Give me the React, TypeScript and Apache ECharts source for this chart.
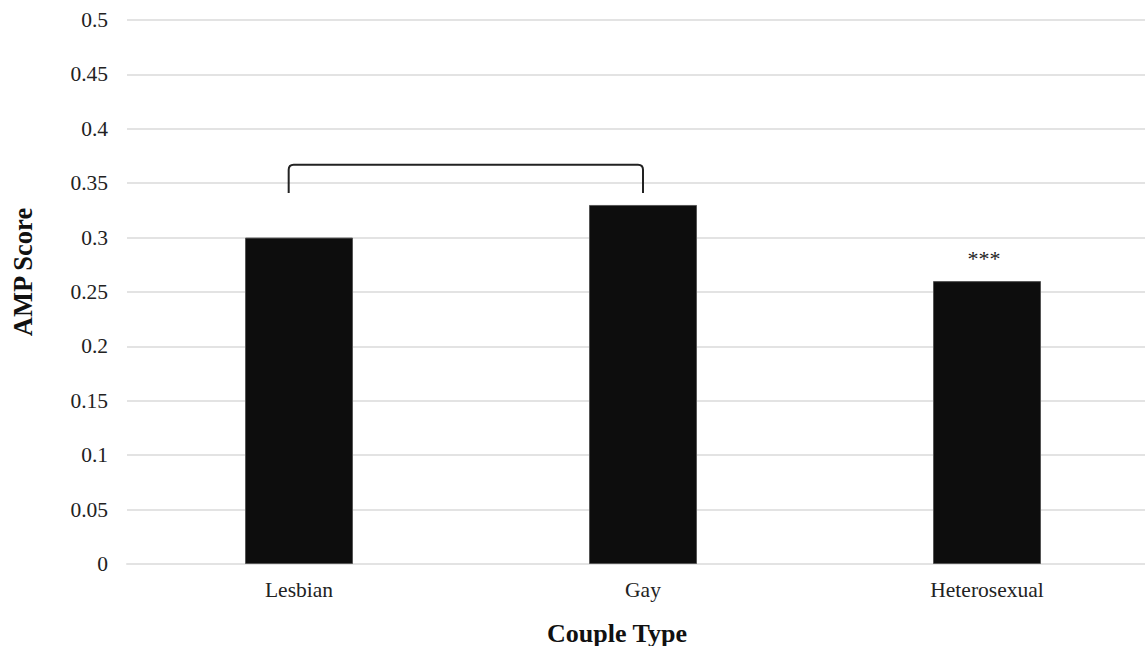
import React, { useEffect, useRef } from "react";
import * as echarts from "echarts";

const categories = ["Lesbian", "Gay", "Heterosexual"];
const ampScores = [0.3, 0.33, 0.26];
const significance = ["", "", "***"];
const yTicks = { min: 0, max: 0.5, interval: 0.05 };
// bracket between Lesbian and Gay: category indices (start, end) and values (bottom, top)
const bracketFrom = [0, 1];
const bracketValues = [0.341, 0.367];

const SERIF = "'Liberation Serif', 'Times New Roman', serif";

export default function App() {
  const ref = useRef<HTMLDivElement>(null);
  useEffect(() => {
    if (!ref.current) return;
    const chart = echarts.init(ref.current, null, { renderer: "svg" });
    chart.setOption({
      animation: false,
      backgroundColor: "#ffffff",
      grid: { left: 127, top: 20, width: 1032, height: 544 },
      xAxis: {
        type: "category",
        data: categories,
        axisLine: { show: true, lineStyle: { color: "#e3e3e3", width: 2 } },
        axisTick: { show: false },
        axisLabel: { fontFamily: SERIF, fontSize: 21.5, color: "#222", margin: 15 },
      },
      yAxis: {
        type: "value",
        min: yTicks.min,
        max: yTicks.max,
        interval: yTicks.interval,
        axisLine: { show: false },
        axisTick: { show: false },
        splitLine: { lineStyle: { color: "#e3e3e3", width: 2 } },
        axisLabel: {
          fontFamily: SERIF,
          fontSize: 21.5,
          color: "#222",
          margin: 19,
          formatter: (v: number) => String(Math.round(v * 100) / 100),
        },
      },
      series: [
        {
          type: "bar",
          data: ampScores.map((v, i) => ({
            value: v,
            label: {
              show: significance[i] !== "",
              formatter: significance[i],
              position: "top",
              distance: 12,
              offset: [-3, 0],
              fontFamily: SERIF,
              fontSize: 22,
              color: "#222",
            },
          })),
          barWidth: 108,
          itemStyle: { color: "#0d0d0d", borderColor: "#555", borderWidth: 1 },
        },
        {
          type: "custom",
          data: [[0]],
          z: 5,
          renderItem: (params: any, api: any) => {
            const bandW = api.size([1, 0])[0];
            const leftShift = -0.03 * bandW;
            const p1 = api.coord([bracketFrom[0], bracketValues[0]]);
            const p2 = api.coord([bracketFrom[0], bracketValues[1]]);
            const p3 = api.coord([bracketFrom[1], bracketValues[1]]);
            const p4 = api.coord([bracketFrom[1], bracketValues[0]]);
            const x1 = p1[0] + leftShift;
            const r = 5;
            return {
              type: "path",
              shape: {
                pathData: `M${x1} ${p1[1]} L${x1} ${p2[1] + r} Q${x1} ${p2[1]} ${x1 + r} ${p2[1]} L${p3[0] - r} ${p3[1]} Q${p3[0]} ${p3[1]} ${p3[0]} ${p3[1] + r} L${p4[0]} ${p4[1]}`,
              },
              style: { fill: "none", stroke: "#222", lineWidth: 2 },
            };
          },
        },
      ],
      graphic: [
        {
          type: "text",
          x: 23,
          y: 272,
          rotation: Math.PI / 2,
          style: {
            text: "AMP Score",
            fontFamily: SERIF,
            fontSize: 26.5,
            fontWeight: "bold",
            fill: "#111",
            align: "center",
            verticalAlign: "middle",
          },
        },
        {
          type: "text",
          x: 617,
          y: 633,
          style: {
            text: "Couple Type",
            fontFamily: SERIF,
            fontSize: 26,
            fontWeight: "bold",
            fill: "#111",
            align: "center",
            verticalAlign: "middle",
          },
        },
      ],
    });
    return () => chart.dispose();
  }, []);
  return (
    <div
      style={{
        position: "fixed",
        left: 0,
        top: 0,
        width: 1145,
        height: 646,
        overflow: "hidden",
        background: "#fff",
      }}
    >
      <div ref={ref} style={{ width: 1180, height: 646 }} />
    </div>
  );
}
